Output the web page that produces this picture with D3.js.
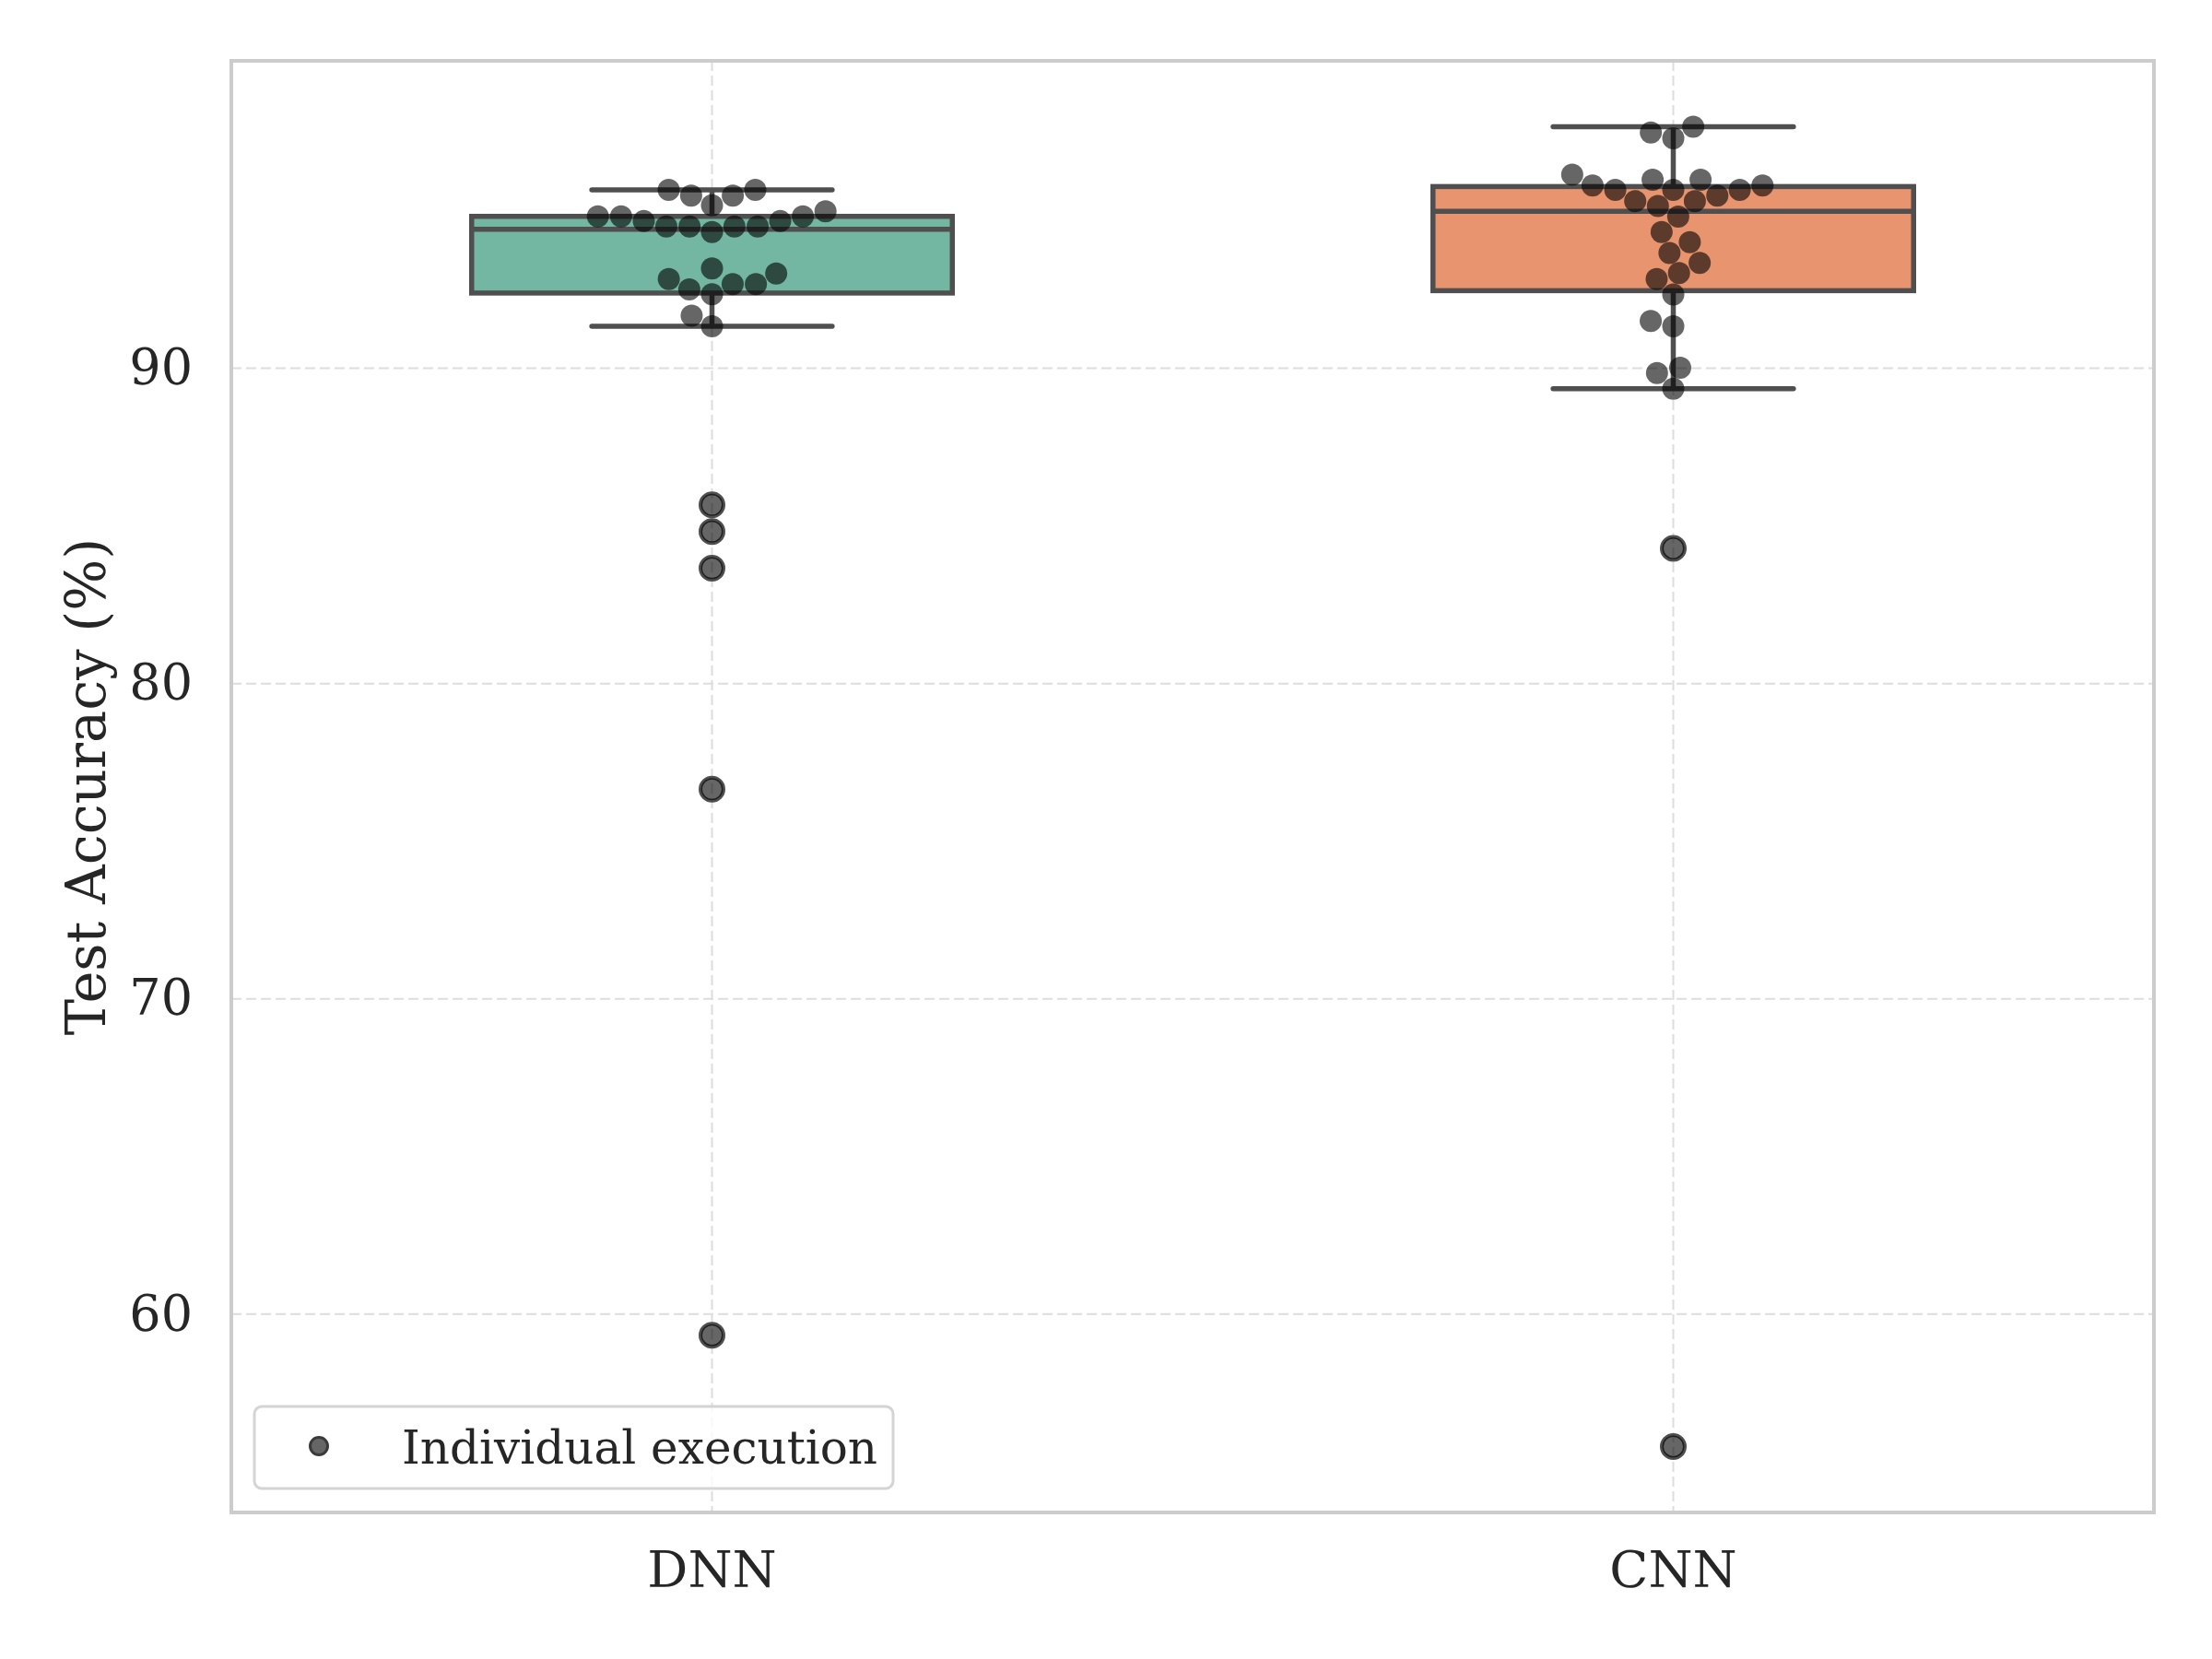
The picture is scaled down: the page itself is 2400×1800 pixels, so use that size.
<!DOCTYPE html>
<html>
<head>
<meta charset="utf-8">
<script src="https://cdn.jsdelivr.net/npm/d3@7"></script>
<style>
  html, body { margin: 0; padding: 0; background: #ffffff; }
  svg { display: block; }
  text { font-family: "DejaVu Serif", serif; fill: #262626; }
</style>
</head>
<body>
<svg id="chart" width="2400" height="1800"></svg>
<script>
// ---------------- DATA ----------------
const categories = ["DNN", "CNN"];
const dnnValues = [
  95.66, 95.48, 95.17, 95.48, 95.66,
  94.82, 94.82, 94.67, 94.50, 94.50, 94.32, 94.50, 94.50, 94.67, 94.82, 94.98,
  92.83, 92.50, 93.17, 92.35, 92.67, 92.67, 93.01,
  91.67, 91.33,
  85.67, 84.82, 83.66, 76.65, 59.33
];
const cnnValues = [
  97.48, 97.30, 97.66,
  95.98, 95.80, 95.66, 95.30, 95.98, 95.15, 95.66, 96.14, 95.30, 95.48, 95.66, 95.80,
  94.81, 94.32, 94.00, 93.66, 93.34, 93.02, 92.83,
  92.34, 91.50, 91.33, 89.85, 90.02, 89.35,
  84.29, 55.80
];
const seriesValues = [dnnValues, cnnValues];
const boxColors = ["#73b6a1", "#e8956f"];
const yTickValues = [60, 70, 80, 90];
const yLabel = "Test Accuracy (%)";
const legendLabel = "Individual execution";

// ---------------- LAYOUT ----------------
const W = 2400, H = 1800;
const M = { left: 251, right: 2337, top: 66, bottom: 1641 };
const svg = d3.select("#chart");

const allVals = seriesValues.flat();
const vmin = d3.min(allVals), vmax = d3.max(allVals);
const pad = (vmax - vmin) * 0.05;

const x = d3.scaleBand().domain(categories).range([M.left, M.right]).paddingInner(0).paddingOuter(0);
const y = d3.scaleLinear().domain([vmin - pad, vmax + pad]).range([M.bottom, M.top]);

const lineColor = "#4f4f4f";
const gridColor = "#dddddd";
const LW = 5.5;

// grid
const gGrid = svg.append("g");
gGrid.selectAll("line.h").data(yTickValues).join("line")
  .attr("x1", M.left).attr("x2", M.right)
  .attr("y1", d => y(d)).attr("y2", d => y(d))
  .attr("stroke", gridColor).attr("stroke-width", 2).attr("stroke-dasharray", "11,5");
gGrid.selectAll("line.v").data(categories).join("line")
  .attr("x1", d => x(d) + x.bandwidth() / 2).attr("x2", d => x(d) + x.bandwidth() / 2)
  .attr("y1", M.top).attr("y2", M.bottom)
  .attr("stroke", gridColor).attr("stroke-width", 2).attr("stroke-dasharray", "11,5");

// axes (labels only; spines drawn as frame)
const yAxis = d3.axisLeft(y).tickValues(yTickValues).tickSize(0).tickPadding(42).tickFormat(d3.format("d"));
const gy = svg.append("g").attr("transform", `translate(${M.left},0)`).call(yAxis);
gy.select(".domain").remove();
gy.selectAll("text").style("font-size", "54px").style("font-family", "DejaVu Serif").attr("fill", "#262626");

const xAxis = d3.axisBottom(x).tickSize(0).tickPadding(42);
const gx = svg.append("g").attr("transform", `translate(0,${M.bottom})`).call(xAxis);
gx.select(".domain").remove();
gx.selectAll("text").style("font-size", "55px").style("font-family", "DejaVu Serif").attr("fill", "#262626");

// y label
svg.append("text")
  .attr("transform", `translate(93,${(M.top + M.bottom) / 2}) rotate(-90)`)
  .attr("text-anchor", "middle").attr("dominant-baseline", "central")
  .style("font-size", "59px").text(yLabel);

// ---------------- BOXES ----------------
const boxFrac = 0.5;
const gBox = svg.append("g");
seriesValues.forEach((vals, i) => {
  const s = vals.slice().sort(d3.ascending);
  const q1 = d3.quantile(s, 0.25), med = d3.quantile(s, 0.5), q3 = d3.quantile(s, 0.75);
  const iqr = q3 - q1;
  const lo = d3.min(s.filter(v => v >= q1 - 1.5 * iqr));
  const hi = d3.max(s.filter(v => v <= q3 + 1.5 * iqr));
  const fliers = s.filter(v => v < lo || v > hi);
  const cx = x(categories[i]) + x.bandwidth() / 2;
  const bw = x.bandwidth() * boxFrac;
  const cw = bw / 2;
  const g = gBox.append("g");
  // whiskers
  g.append("line").attr("x1", cx).attr("x2", cx).attr("y1", y(q1)).attr("y2", y(lo))
    .attr("stroke", lineColor).attr("stroke-width", LW);
  g.append("line").attr("x1", cx).attr("x2", cx).attr("y1", y(q3)).attr("y2", y(hi))
    .attr("stroke", lineColor).attr("stroke-width", LW);
  // caps
  [lo, hi].forEach(v => g.append("line")
    .attr("x1", cx - cw / 2).attr("x2", cx + cw / 2).attr("y1", y(v)).attr("y2", y(v))
    .attr("stroke", lineColor).attr("stroke-width", LW).attr("stroke-linecap", "round"));
  // box
  g.append("rect").attr("x", cx - bw / 2).attr("width", bw)
    .attr("y", y(q3)).attr("height", y(q1) - y(q3))
    .attr("fill", boxColors[i]).attr("stroke", lineColor).attr("stroke-width", LW);
  // median
  g.append("line").attr("x1", cx - bw / 2).attr("x2", cx + bw / 2).attr("y1", y(med)).attr("y2", y(med))
    .attr("stroke", lineColor).attr("stroke-width", LW);
  // fliers
  g.selectAll("circle").data(fliers).join("circle")
    .attr("cx", cx).attr("cy", d => y(d)).attr("r", 12.5)
    .attr("fill", "none").attr("stroke", lineColor).attr("stroke-width", 4);
});

// ---------------- SWARM (seaborn-style beeswarm) ----------------
const R = 12;
function beeswarm(vals, cx) {
  const pts = vals.map(v => ({ v, x: cx, u: -y(v), r: R }));
  pts.sort((a, b) => a.u - b.u);
  const swarm = [pts[0]];
  for (let k = 1; k < pts.length; k++) {
    const p = pts[k];
    const neighbors = [];
    for (let j = swarm.length - 1; j >= 0; j--) {
      const q = swarm[j];
      if ((p.u - q.u) < (p.r + q.r)) neighbors.push(q); else break;
    }
    const cands = [{ x: p.x }];
    let leftFirst = true;
    neighbors.forEach(q => {
      const dy = p.u - q.u;
      const dx = Math.sqrt(Math.max((p.r + q.r) ** 2 - dy * dy, 0)) * 1.05;
      const cl = { x: q.x - dx }, cr = { x: q.x + dx };
      if (leftFirst) cands.push(cl, cr); else cands.push(cr, cl);
      leftFirst = !leftFirst;
    });
    const ordered = cands.map((c, idx) => ({ c, idx, off: Math.abs(c.x - cx) }))
      .sort((a, b) => a.off - b.off || a.idx - b.idx).map(o => o.c);
    let chosen = ordered[0];
    if (neighbors.length) {
      for (const c of ordered) {
        const ok = neighbors.every(q => (q.x - c.x) ** 2 + (q.u - p.u) ** 2 >= (q.r + p.r) ** 2);
        if (ok) { chosen = c; break; }
      }
    }
    p.x = chosen.x;
    swarm.push(p);
  }
  return swarm;
}

const gSwarm = svg.append("g");
seriesValues.forEach((vals, i) => {
  const cx = x(categories[i]) + x.bandwidth() / 2;
  const pts = beeswarm(vals, cx);
  gSwarm.append("g").selectAll("circle").data(pts).join("circle")
    .attr("cx", d => d.x).attr("cy", d => -d.u).attr("r", R)
    .attr("fill", "#000000").attr("fill-opacity", 0.6);
});

// ---------------- FRAME ----------------
svg.append("rect").attr("x", M.left).attr("y", M.top)
  .attr("width", M.right - M.left).attr("height", M.bottom - M.top)
  .attr("fill", "none").attr("stroke", "#cccccc").attr("stroke-width", 4);

// ---------------- LEGEND ----------------
const lg = svg.append("g").attr("transform", "translate(276,1526)");
lg.append("rect").attr("width", 693).attr("height", 89).attr("rx", 8).attr("ry", 8)
  .attr("fill", "#ffffff").attr("fill-opacity", 0.8)
  .attr("stroke", "#d4d4d4").attr("stroke-width", 3);
lg.append("circle").attr("cx", 70).attr("cy", 43).attr("r", 9.5)
  .attr("fill", "#666666").attr("stroke", "#3a3a3a").attr("stroke-width", 3);
lg.append("text").attr("x", 160).attr("y", 45).attr("dominant-baseline", "central")
  .style("font-size", "50px").text(legendLabel);
</script>
</body>
</html>
